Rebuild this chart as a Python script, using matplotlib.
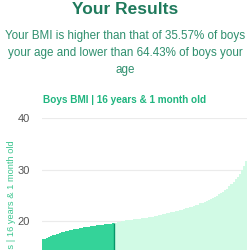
import matplotlib.pyplot as plt

# BMI readings by percentile (1..99), boys 16 years & 1 month
percentiles = list(range(1, 100))
bmi_values = [
    16.5, 16.6, 16.7, 16.9, 17.0, 17.2, 17.3, 17.5, 17.6, 17.8,
    17.9, 18.0, 18.1, 18.2, 18.3, 18.4, 18.4, 18.5, 18.6, 18.7,
    18.8, 18.8, 18.9, 19.0, 19.0, 19.1, 19.2, 19.2, 19.3, 19.3,
    19.4, 19.4, 19.5, 19.5, 19.6, 19.7, 19.8, 19.9, 20.0, 20.0,
    20.1, 20.1, 20.2, 20.2, 20.3, 20.3, 20.4, 20.4, 20.5, 20.6,
    20.6, 20.7, 20.8, 20.8, 20.9, 21.0, 21.1, 21.2, 21.3, 21.4,
    21.5, 21.6, 21.7, 21.8, 21.9, 22.0, 22.1, 22.2, 22.3, 22.5,
    22.6, 22.7, 22.8, 22.9, 23.1, 23.2, 23.4, 23.5, 23.7, 23.9,
    24.1, 24.3, 24.5, 24.7, 24.9, 25.2, 25.4, 25.7, 26.0, 26.3,
    26.7, 27.1, 27.6, 28.1, 28.6, 29.2, 29.9, 30.7, 31.6,
]
user_pct = 35.57
y_ticks = [20, 30, 40]

DARK = '#34d399'
LIGHT = '#d1fae5'
MARK = '#059669'

plt.rcParams['font.family'] = ['Liberation Sans', 'DejaVu Sans']

fig = plt.figure(figsize=(2.5, 2.5), dpi=100)
fig.patch.set_facecolor('white')

fig.text(0.5, 0.963, 'Your Results', ha='center', va='center',
         fontsize=12.5, fontweight='bold', color='#1f7a5c')
fig.text(0.5, 0.787,
         'Your BMI is higher than that of 35.57% of boys\n'
         'your age and lower than 64.43% of boys your\nage',
         ha='center', va='center', fontsize=8.4, color='#2f8f6e',
         linespacing=1.55)
fig.text(0.172, 0.6, 'Boys BMI | 16 years & 1 month old', ha='left',
         va='center', fontsize=7.2, fontweight='bold', color='#1fb57f')

ax = fig.add_axes([0.168, -0.296, 0.82, 0.824])
colors = [DARK if p <= user_pct else LIGHT for p in percentiles]
ax.bar(percentiles, bmi_values, width=1.0, color=colors, linewidth=0, zorder=2)

idx = int(user_pct)
ax.vlines(percentiles[idx - 1] + 0.5, 0, bmi_values[idx - 1], color=MARK,
          linewidth=1.0, zorder=3)

ax.set_xlim(0.5, 99.5)
ax.set_ylim(0, 40)
ax.set_yticks(y_ticks)
ax.set_xticks([])
ax.tick_params(axis='y', length=0, pad=9, labelsize=8, labelcolor='#555555')
ax.grid(axis='y', color='#ebebeb', linewidth=0.8, zorder=0)
for s in ax.spines.values():
    s.set_visible(False)
ax.set_ylabel('BMI Readings | 16 years & 1 month old', fontsize=6.7,
              color='#3cc58f', labelpad=1)

fig.savefig('out.png', dpi=100)
